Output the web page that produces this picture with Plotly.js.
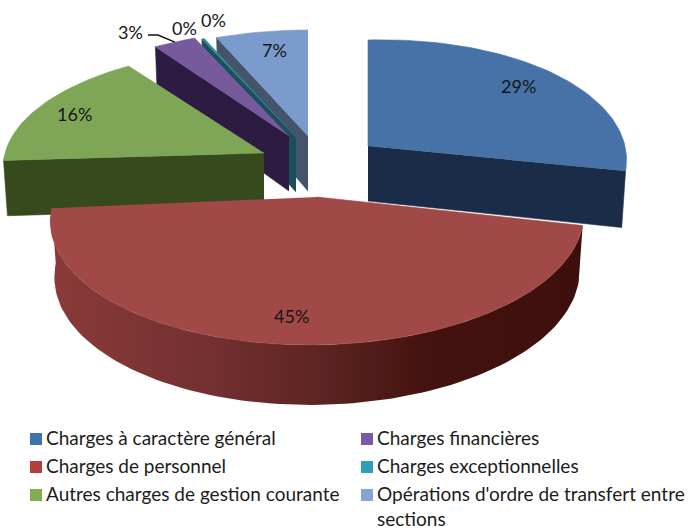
<!DOCTYPE html>
<html><head><meta charset="utf-8">
<script src="https://cdn.plot.ly/plotly-3.0.1.min.js"></script>
<style>html,body{margin:0;padding:0;background:#fff}#c{width:694px;height:530px}</style>
</head><body><div id="c"></div>
<script>
// DATA
const categories = ["Charges à caractère général","Charges de personnel","Autres charges de gestion courante","Charges financières","Charges exceptionnelles","","Opérations d'ordre de transfert entre<br>sections"];
const shares = [29, 45, 16.3, 3, 0.2, 0, 6.5];
const percentLabels = ["29%","45%","16%","3%","0%","0%","7%"];

// STYLE / LAYOUT (not data)
const topColors  = ["#4672a8","#a04947","#7fa657","#775a9c","#2f8a99","#000","#7b9bcd"];
const wallColors = ["#1b2c48","#6b2220","#364a1d","#2d1b42","#1c4f5c","#000","#44546a"];
const legendColors = ["#3f72b3","#b23f3d","#7fae50","#7a5aa8","#2f9fb5","#000","#85a5d8"];
const apexX = [368,317,264,289,296,296,308];
const apexY = [146,197,153,136,137,137,136];
const radiusX = [255,263,259,265,265,265,265];
const radiusY = [123.5,123.5,116.7,123.5,123.5,123.5,123.5];
const persp = [0.165,0.165,0.12,0.165,0.165,0.165,0.165];
const shear = [-0.027,-0.013,0,0,0,0,0];
const wallSide = ["end","arc","start","start","start","none","start"];
const labelX = [518,291,74,130,184,213,274];
const labelY = [86,316,114,32,28,20,50];
const legendX = [45,45,45,376,376,0,376];
const legendY = [439,467,495,439,467,0,495];
const BOTTOM_SCALE = 0.985, DEPTH = 55;

function proj(i, deg, bottom){
  const a = deg*Math.PI/180, u = Math.cos(a), w = 1/(1+persp[i]*u);
  const sx = radiusX[i]*Math.sin(a)*w, sy = -radiusY[i]*u*w + shear[i]*sx;
  if(!bottom) return [apexX[i]+sx, apexY[i]+sy];
  return [apexX[i]+BOTTOM_SCALE*sx, apexY[i]+BOTTOM_SCALE*sy+DEPTH*(1-0.13*u)];
}
function poly(pts, color, grad){
  const t = {type:"scatter",mode:"lines",fill:"toself",x:pts.map(p=>p[0]),y:pts.map(p=>p[1]),
    line:{color:color,width:0.6},fillcolor:color,hoverinfo:"skip",showlegend:false};
  if(grad){ t.fillgradient={type:"horizontal",colorscale:grad}; t.line={width:0}; }
  return t;
}
const total = shares.reduce((a,b)=>a+b,0);
let acc = 0; const starts=[], ends=[];
shares.forEach(v=>{starts.push(acc/total*360); acc+=v; ends.push(acc/total*360);});

const traces = [];
[6,5,4,3,2,0,1].forEach(i=>{
  if(shares[i]<=0) return;
  const s=starts[i], e=ends[i], top=[[apexX[i],apexY[i]]], step=(e-s)/Math.max(2,Math.ceil((e-s)/1.5));
  const arc=[], arcB=[];
  for(let d=s; d<=e+1e-6; d+=step){ arc.push(proj(i,d,false)); arcB.push(proj(i,d,true)); }
  const apexB=[apexX[i],apexY[i]+DEPTH];
  if(wallSide[i]==="start") traces.push(poly([top[0],arc[0],arcB[0],apexB],wallColors[i]));
  if(wallSide[i]==="end") traces.push(poly([top[0],arc[arc.length-1],arcB[arcB.length-1],apexB],wallColors[i]));
  if(wallSide[i]==="arc") traces.push(poly(arc.concat(arcB.slice().reverse()),wallColors[i],
    [[0,"#8a3a39"],[0.3,"#733030"],[0.5,"#5d2523"],[0.7,"#45130f"],[1,"#3d0f0c"]]));
  traces.push(poly(top.concat(arc),topColors[i]));
});
// leader for the 3% label
const lead = proj(3,(starts[3]+ends[3])/2,false);
traces.push({type:"scatter",mode:"lines",x:[labelX[3]+18,labelX[3]+28,lead[0]],y:[labelY[3]+3,labelY[3]+3,lead[1]],
  line:{color:"#111",width:1.4},hoverinfo:"skip",showlegend:false});
// legend swatches
const idx = categories.map((c,i)=>c?i:-1).filter(i=>i>=0);
traces.push({type:"scatter",mode:"markers",x:idx.map(i=>legendX[i]-9),y:idx.map(i=>legendY[i]),
  marker:{symbol:"square",size:12,color:idx.map(i=>legendColors[i])},hoverinfo:"skip",showlegend:false});

const FONT = "Lato, 'Open Sans', sans-serif";
const annotations = [];
percentLabels.forEach((t,i)=>annotations.push({x:labelX[i],y:labelY[i],xref:"x",yref:"y",text:t,showarrow:false,
  xanchor:"center",yanchor:"middle",font:{family:FONT,size:18,color:"#151515"}}));
idx.forEach(i=>annotations.push({x:legendX[i],y:legendY[i]-14,xref:"x",yref:"y",text:categories[i],showarrow:false,borderpad:0,
  xanchor:"left",yanchor:"top",align:"left",font:{family:FONT,size:19,color:"#1c1c1c"}}));

Plotly.newPlot("c",traces,{
  width:694,height:530,margin:{l:0,r:0,t:0,b:0},paper_bgcolor:"#fff",plot_bgcolor:"#fff",showlegend:false,
  xaxis:{range:[0,694],visible:false,fixedrange:true},
  yaxis:{range:[530,0],visible:false,fixedrange:true},
  annotations:annotations
},{staticPlot:true,displayModeBar:false});
</script></body></html>
